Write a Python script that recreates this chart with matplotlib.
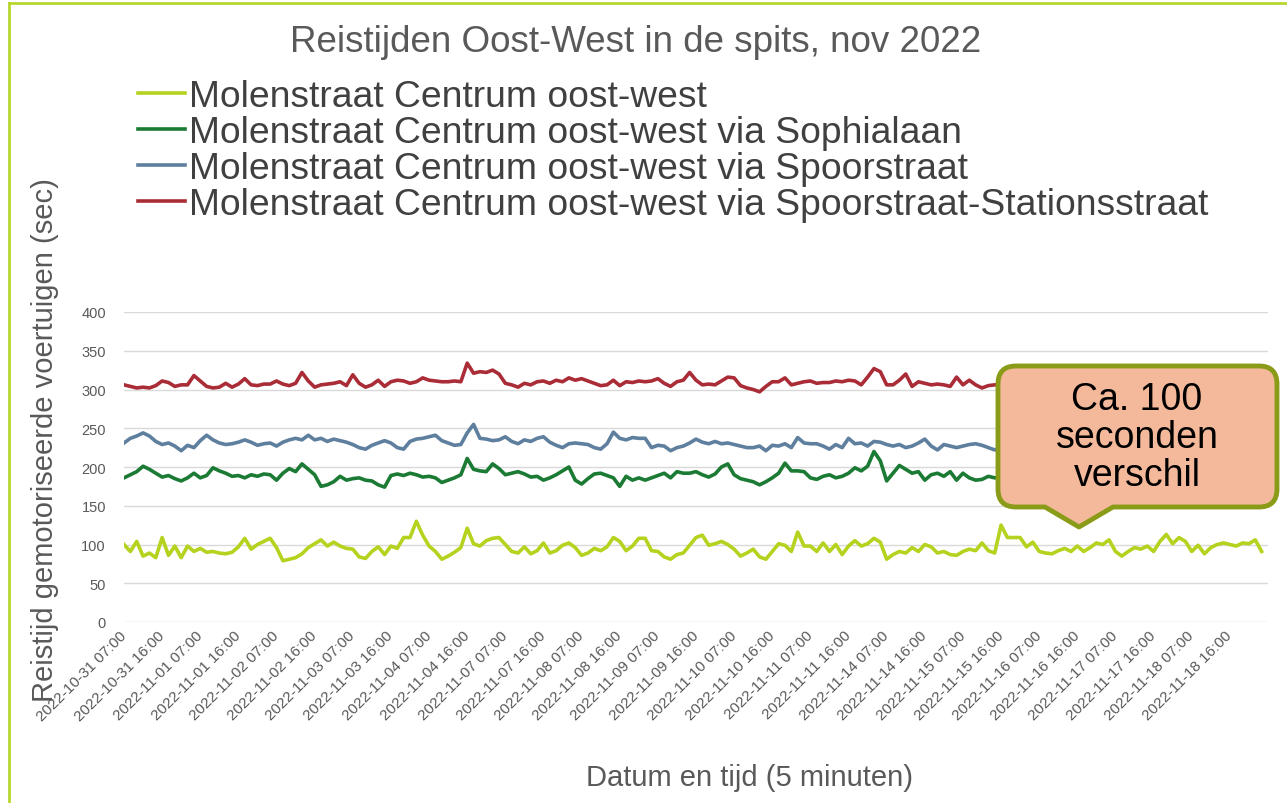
import numpy as np
import matplotlib
matplotlib.use("Agg")
import matplotlib.pyplot as plt
from matplotlib.patches import PathPatch
from matplotlib.path import Path
from matplotlib.lines import Line2D
from matplotlib.transforms import Affine2D

plt.rcParams['font.family'] = ['Liberation Sans', 'DejaVu Sans']

# reistijden (sec), 6 samples per spitsblok (om de 20 minuten)
pts_per_block = 6

tick_labels = [
    '2022-10-31 07:00', '2022-10-31 16:00', '2022-11-01 07:00', '2022-11-01 16:00',
    '2022-11-02 07:00', '2022-11-02 16:00', '2022-11-03 07:00', '2022-11-03 16:00',
    '2022-11-04 07:00', '2022-11-04 16:00', '2022-11-07 07:00', '2022-11-07 16:00',
    '2022-11-08 07:00', '2022-11-08 16:00', '2022-11-09 07:00', '2022-11-09 16:00',
    '2022-11-10 07:00', '2022-11-10 16:00', '2022-11-11 07:00', '2022-11-11 16:00',
    '2022-11-14 07:00', '2022-11-14 16:00', '2022-11-15 07:00', '2022-11-15 16:00',
    '2022-11-16 07:00', '2022-11-16 16:00', '2022-11-17 07:00', '2022-11-17 16:00',
    '2022-11-18 07:00', '2022-11-18 16:00',
]

centrum = [
    100, 91, 104, 85, 89, 83, 109, 86, 98, 83, 98, 91, 95, 90, 91, 89, 88, 90,
    97, 108, 94, 100, 104, 108, 96, 79, 81, 83, 88, 96, 101, 106, 98, 103, 98, 95,
    94, 84, 82, 91, 97, 87, 98, 95, 109, 109, 130, 112, 98, 91, 81, 85, 90, 96,
    121, 101, 98, 105, 108, 109, 100, 91, 89, 97, 88, 92, 102, 89, 92, 99, 102, 96, 86,
    89, 95, 92, 97, 109, 104, 92, 98, 108, 108, 92, 91, 84, 81, 87, 89, 99, 109,
    112, 99, 101, 104, 100, 94, 85, 89, 94, 84, 81, 91, 101, 99, 91, 116, 98, 98,
    91, 102, 91, 100, 87, 98, 105, 98, 101, 108, 103, 81, 87, 91, 89, 96, 91, 100,
    97, 89, 91, 87, 86, 91, 94, 92, 102, 92, 89, 125, 109, 109, 109, 97, 103, 91,
    89, 88, 92, 95, 91, 98, 91, 96, 102, 100, 106, 91, 85, 91, 96, 94, 98, 91,
    104, 113, 101, 109, 104, 91, 99, 88, 96, 100, 102, 100, 98, 102, 101, 106, 91,
]

sophialaan = [
    186, 190, 194, 201, 197, 192, 187, 189, 185, 182, 186, 192, 186, 189, 199, 195, 192, 188,
    189, 186, 190, 188, 191, 190, 183, 192, 198, 194, 204, 197, 190, 175, 177, 181, 188, 183,
    185, 186, 183, 182, 177, 174, 189, 191, 189, 192, 190, 187, 188, 186, 180, 183, 186, 190,
    211, 197, 195, 194, 204, 198, 190, 192, 194, 191, 187, 188, 183, 186, 190, 195, 200, 183, 178,
    185, 191, 192, 189, 186, 175, 188, 183, 186, 183, 186, 189, 192, 186, 194, 192, 192, 194,
    190, 187, 191, 200, 204, 190, 185, 183, 181, 177, 181, 186, 192, 205, 195, 195, 194, 186,
    184, 188, 190, 186, 188, 192, 199, 195, 201, 220, 208, 182, 192, 202, 197, 192, 194, 183,
    190, 192, 188, 194, 183, 192, 186, 183, 184, 188, 186, 187, 187,
]

spoorstraat = [
    231, 237, 240, 244, 240, 233, 229, 231, 227, 221, 228, 225, 234, 241, 235, 231, 229, 230,
    232, 235, 232, 228, 230, 231, 227, 232, 235, 237, 235, 241, 235, 237, 233, 236, 234, 232,
    229, 225, 223, 228, 231, 234, 231, 225, 223, 233, 236, 237, 239, 241, 234, 231, 228, 229,
    244, 255, 237, 236, 234, 235, 239, 233, 230, 235, 233, 237, 239, 232, 228, 225, 230, 231, 230,
    229, 225, 223, 230, 245, 237, 235, 238, 237, 237, 225, 228, 227, 221, 225, 227, 231, 236,
    232, 230, 233, 230, 231, 229, 227, 225, 225, 227, 221, 228, 227, 230, 225, 238, 231, 230,
    230, 227, 223, 229, 225, 237, 230, 231, 227, 233, 232, 229, 227, 229, 225, 227, 231, 236,
    227, 222, 229, 227, 225, 227, 229, 230, 228, 225, 222, 225, 225,
]

stationsstraat = [
    306, 304, 302, 303, 302, 305, 311, 309, 304, 306, 306, 318, 311, 304, 302, 303, 308, 303,
    307, 314, 306, 305, 307, 307, 311, 307, 305, 308, 322, 311, 303, 306, 307, 308, 310, 305,
    319, 308, 303, 306, 312, 304, 310, 312, 311, 308, 310, 315, 312, 311, 310, 310, 311, 310,
    334, 321, 323, 322, 325, 320, 308, 306, 303, 308, 306, 310, 311, 308, 312, 310, 315, 312, 314,
    311, 308, 305, 306, 312, 305, 310, 309, 311, 310, 311, 314, 308, 304, 310, 312, 322, 312,
    306, 307, 306, 311, 316, 315, 305, 302, 300, 297, 304, 310, 310, 315, 306, 308, 310, 311,
    308, 309, 309, 311, 310, 312, 311, 306, 316, 327, 323, 306, 306, 312, 320, 304, 310, 308,
    306, 307, 306, 304, 316, 306, 312, 306, 302, 305, 306, 306, 306,
]

series = [
    (centrum, 'Molenstraat Centrum oost-west', '#b5d31e'),
    (sophialaan, 'Molenstraat Centrum oost-west via Sophialaan', '#1b7a33'),
    (spoorstraat, 'Molenstraat Centrum oost-west via Spoorstraat', '#5f7f9e'),
    (stationsstraat, 'Molenstraat Centrum oost-west via Spoorstraat-Stationsstraat', '#a92c37'),
]

W, H = 1287, 804
fig = plt.figure(figsize=(W / 100, H / 100), dpi=100)
ax = fig.add_axes([124 / W, 1 - 623 / H, (1268 - 124) / W, (623 - 313) / H])

for vals, name, col in series:
    x = np.arange(len(vals)) / pts_per_block
    ax.plot(x, vals, color=col, lw=2.6, label=name, solid_joinstyle='round')

ax.set_xlim(0, len(tick_labels))
ax.set_ylim(0, 400)
ax.set_yticks(np.arange(0, 401, 50))
ax.set_xticks(np.arange(len(tick_labels)))
ax.set_xticklabels(tick_labels, rotation=45, ha='right', va='center',
                   rotation_mode='anchor', fontsize=11, color='#595959')
ax.tick_params(axis='y', length=0, pad=13, labelsize=10.5, labelcolor='#595959')
ax.tick_params(axis='x', length=0, pad=8)
ax.yaxis.grid(True, color='#d9d9d9', lw=1)
ax.set_axisbelow(True)
for s in ax.spines.values():
    s.set_visible(False)

fig.text(636 / W, 1 - 42 / H, 'Reistijden Oost-West in de spits, nov 2022',
         ha='center', va='center', fontsize=26.5, color='#595959')
fig.text(45 / W, 1 - 440 / H, 'Reistijd gemotoriseerde voertuigen (sec)',
         rotation=90, ha='center', va='center', fontsize=21, color='#595959')
fig.text(750 / W, 1 - 778 / H, 'Datum en tijd (5 minuten)',
         ha='center', va='center', fontsize=21, color='#595959')

fig.legend(loc='upper left', bbox_to_anchor=(138 / W, 1 - 80 / H), frameon=False,
           fontsize=26.8, handlelength=1.25, handletextpad=0.12, labelspacing=0.03,
           borderpad=0, borderaxespad=0, labelcolor='#404040')

# tekstballon
px = Affine2D().scale(1 / W, 1 / H) + fig.transFigure
L, R, T, B, r = 998, 1277, H - 367, H - 508, 18
verts = [
    (L + r, T), (R - r, T), (R, T), (R, T - r), (R, B + r), (R, B), (R - r, B),
    (1113, B), (1079, H - 528), (1045, B), (L + r, B), (L, B), (L, B + r),
    (L, T - r), (L, T), (L + r, T), (L + r, T),
]
codes = [
    Path.MOVETO, Path.LINETO, Path.CURVE3, Path.CURVE3, Path.LINETO, Path.CURVE3, Path.CURVE3,
    Path.LINETO, Path.LINETO, Path.LINETO, Path.LINETO, Path.CURVE3, Path.CURVE3,
    Path.LINETO, Path.CURVE3, Path.CURVE3, Path.CLOSEPOLY,
]
fig.add_artist(PathPatch(Path(verts, codes), transform=px, facecolor='#f4b99b',
                         edgecolor='#8a9b17', lw=3.5, joinstyle='round', zorder=5))
fig.text(1137 / W, 1 - 438 / H, 'Ca. 100\nseconden\nverschil', ha='center', va='center',
         fontsize=27, linespacing=1.08, color='black', zorder=6)

# groene rand van de dia
fig.add_artist(Line2D([9 / W, 9 / W], [0, 1 - 4 / H], color='#b7d62f', lw=2))
fig.add_artist(Line2D([9 / W, 1], [1 - 4 / H, 1 - 4 / H], color='#b7d62f', lw=2))

fig.savefig('out.png', dpi=100)
